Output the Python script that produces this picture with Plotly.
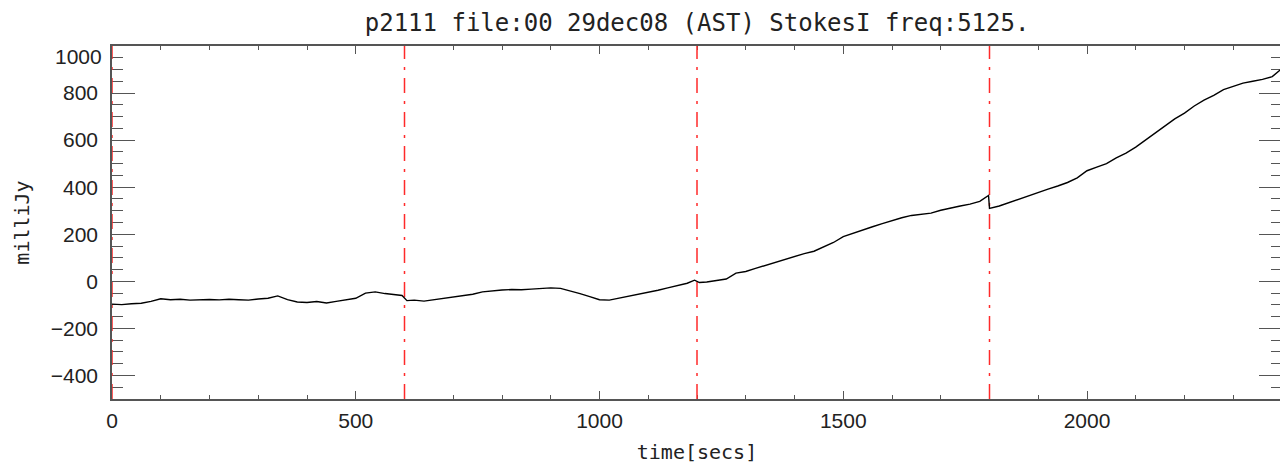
"""Stokes I time series with scan boundaries (IDL-like look)."""
import plotly.graph_objects as go

FONT = "Liberation Sans"
WIDE = "DejaVu Sans Mono"
INK = "#222222"
AXIS = "#555555"
RED = "#ff2a2a"

TITLE = "p2111 file:00 29dec08 (AST) StokesI freq:5125."

# time samples [s] and flux [mJy]; the step at 1800 s is a real jump
time_s = [
    0, 20, 40, 60, 80, 100, 120, 140, 160, 180,
    200, 220, 240, 260, 280, 300, 320, 340, 360, 380,
    400, 420, 440, 460, 480, 500, 520, 540, 560, 580,
    595, 605, 620, 640, 660, 680, 700, 720, 740, 760,
    780, 800, 820, 840, 860, 880, 900, 920, 940, 960,
    980, 1000, 1020, 1040, 1060, 1080, 1100, 1120, 1140, 1160,
    1180, 1195, 1205, 1220, 1240, 1260, 1280, 1300, 1320, 1340,
    1360, 1380, 1400, 1420, 1440, 1460, 1480, 1500, 1520, 1540,
    1560, 1580, 1600, 1620, 1640, 1660, 1680, 1700, 1720, 1740,
    1760, 1780, 1798, 1800, 1820, 1840, 1860, 1880, 1900, 1920,
    1940, 1960, 1980, 2000, 2020, 2040, 2060, 2080, 2100, 2120,
    2140, 2160, 2180, 2200, 2220, 2240, 2260, 2280, 2300, 2320,
    2340, 2360, 2380, 2400,
]
flux_mjy = [
    -97, -99, -95, -93, -85, -74, -78, -76, -80, -78,
    -77, -79, -76, -78, -80, -75, -72, -62, -78, -88,
    -90, -86, -92, -85, -80, -72, -50, -45, -52, -55,
    -60, -82, -80, -84, -78, -75, -68, -62, -55, -45,
    -40, -37, -35, -36, -33, -30, -28, -30, -40, -52,
    -65, -78, -80, -72, -64, -55, -45, -38, -28, -18,
    -8, 5, -5, -3, 2, 10, 35, 42, 55, 68,
    80, 95, 108, 118, 128, 145, 165, 190, 205, 218,
    232, 245, 258, 270, 280, 285, 290, 302, 312, 320,
    328, 340, 365, 310, 320, 335, 350, 365, 378, 392,
    405, 420, 440, 470, 485, 500, 525, 545, 570, 600,
    630, 660, 690, 715, 745, 770, 790, 815, 830, 842,
    850, 858, 870, 905,
]

# scan boundaries drawn as dash-dot markers
boundary_s = [0, 600, 1200, 1800, 2400]
y_min, y_max = -500, 1000
y_ticks = [-400, -200, 0, 200, 400, 600, 800, 1000]

fig = go.Figure()
for t in boundary_s:
    fig.add_trace(go.Scatter(x=[t, t], y=[y_min, y_max], mode="lines",
                             line=dict(color=RED, width=1.5, dash="15px,8px,3px,8px"),
                             showlegend=False, hoverinfo="skip"))
fig.add_trace(go.Scatter(x=time_s, y=flux_mjy, mode="lines",
                         line=dict(color="black", width=1.4), showlegend=False))

tickfont = dict(family=FONT, size=21, color=INK)
titlefont = dict(family=WIDE, size=20, color=INK)
fig.update_layout(
    width=1288, height=470,
    paper_bgcolor="white", plot_bgcolor="white",
    margin=dict(l=104, r=14, t=38, b=79, autoexpand=False),
    title=dict(text=TITLE, x=0.535, xanchor="center", y=0.970, yanchor="middle",
               font=dict(family=WIDE, size=24, color=INK)),
    showlegend=False,
)
fig.update_xaxes(
    range=[0, 2400], dtick=500, tick0=0, showgrid=False, zeroline=False,
    showline=True, linecolor=AXIS, linewidth=1.5, mirror="ticks",
    ticks="inside", ticklen=8, tickwidth=1.2, tickcolor=AXIS,
    minor=dict(dtick=100, ticks="inside", ticklen=4, tickcolor=AXIS, showgrid=False),
    tickfont=tickfont, ticklabelstandoff=2, layer="below traces", automargin=False,
    title=dict(text="time[secs]", font=titlefont, standoff=14),
)
# the top label sits a little below its tick, as IDL keeps it inside the frame
fig.update_yaxes(
    range=[y_min, y_max], tickmode="array", tickvals=y_ticks,
    ticktext=[f"{v:d}".replace("-", "\u2212") for v in y_ticks[:-1]] + [""],
    showgrid=False, zeroline=False,
    showline=True, linecolor=AXIS, linewidth=1.5, mirror="ticks",
    ticks="inside", ticklen=23, tickwidth=1.2, tickcolor=AXIS,
    minor=dict(tick0=0, dtick=50, ticks="inside", ticklen=11, tickcolor=AXIS, showgrid=False),
    tickfont=tickfont, ticklabelstandoff=8, layer="below traces", automargin=False,
    title=dict(text="milliJy", font=titlefont, standoff=16),
)
fig.add_annotation(text=str(y_ticks[-1]), xref="paper", x=0, xanchor="right", xshift=-8,
                   yref="y", y=y_ticks[-1], yanchor="middle", yshift=-10,
                   showarrow=False, font=tickfont)

fig.write_html("out.html")
